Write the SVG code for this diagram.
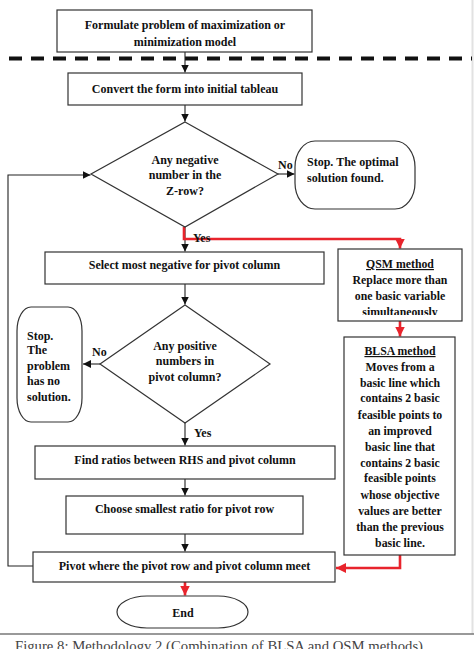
<svg xmlns="http://www.w3.org/2000/svg" width="474" height="649" viewBox="0 0 474 649">
<style>
.box{fill:#fff;stroke:#333;stroke-width:1.2}
.t{font-family:"Liberation Serif","Times New Roman",serif;font-size:12px;font-weight:bold;fill:#111;text-anchor:middle}
.tl{font-family:"Liberation Serif","Times New Roman",serif;font-size:12px;font-weight:bold;fill:#111}
.r{font-family:"Liberation Serif","Times New Roman",serif;font-size:11.8px;font-weight:bold;fill:#111;text-anchor:middle}
.bl{fill:none;stroke:#222;stroke-width:1.1}
.rd{fill:none;stroke:#e8242c;stroke-width:2.6}
</style>
<defs>
<marker id="ab" markerUnits="userSpaceOnUse" markerWidth="10" markerHeight="10" refX="8" refY="4" orient="auto"><path d="M0,0 L8,4 L0,8 z" fill="#111"/></marker>
<marker id="ar" markerUnits="userSpaceOnUse" markerWidth="12" markerHeight="12" refX="10" refY="5" orient="auto"><path d="M0,0 L10,5 L0,10 z" fill="#e8242c"/></marker>
<clipPath id="qclip"><rect x="338" y="249" width="124" height="66"/></clipPath>
</defs>
<rect width="474" height="649" fill="#fff"/>
<line x1="472.5" y1="0" x2="472.5" y2="634" stroke="#e2e2e2" stroke-width="2"/>
<line x1="0" y1="634" x2="474" y2="634" stroke="#777" stroke-width="1.4"/>
<line x1="9" y1="58.5" x2="472" y2="58.5" stroke="#111" stroke-width="4" stroke-dasharray="13 9"/>

<g id="connectors">
<line class="bl" x1="185" y1="52" x2="185" y2="72.5" marker-end="url(#ab)"/>
<line class="bl" x1="185" y1="105" x2="185" y2="121.5" marker-end="url(#ab)"/>
<path class="bl" d="M33,566 H8 V175 H90.5" marker-end="url(#ab)"/>
<line class="bl" x1="278" y1="174" x2="294.5" y2="174" marker-end="url(#ab)"/>
<line class="bl" x1="185" y1="227" x2="185" y2="251.5" marker-end="url(#ab)"/>
<path class="rd" d="M184,227 V239 H400 V248.5" marker-end="url(#ar)"/>
<line class="bl" x1="185" y1="284" x2="185" y2="304.5" marker-end="url(#ab)"/>
<line class="bl" x1="100" y1="364" x2="83" y2="364" marker-end="url(#ab)"/>
<line class="bl" x1="185" y1="423" x2="185" y2="445.5" marker-end="url(#ab)"/>
<line class="bl" x1="185" y1="479" x2="185" y2="495.5" marker-end="url(#ab)"/>
<line class="bl" x1="185" y1="534" x2="185" y2="551.5" marker-end="url(#ab)"/>
<line class="rd" x1="400" y1="321" x2="400" y2="336.5" marker-end="url(#ar)"/>
<path class="rd" d="M400,555 V568 H336" marker-end="url(#ar)"/>
<line class="rd" x1="185" y1="582" x2="185" y2="595.5" marker-end="url(#ar)"/>
<text class="tl" x="193" y="242">Yes</text>
<text class="tl" x="194" y="437">Yes</text>
<text class="tl" x="278" y="169">No</text>
<text class="tl" x="92" y="356">No</text>
</g>

<g id="n-formulate">
<rect class="box" x="57" y="10" width="255" height="42"/>
<text class="t" x="185" y="29">Formulate problem of maximization or</text>
<text class="t" x="185" y="46">minimization model</text>
</g>
<g id="n-convert">
<rect class="box" x="68" y="73" width="234" height="32"/>
<text class="t" x="185" y="93">Convert the form into initial tableau</text>
</g>
<g id="n-neg">
<polygon class="box" points="185,122 278,174 185,227 91,174"/>
<text class="t" x="185" y="164">Any negative</text>
<text class="t" x="185" y="179">number in the</text>
<text class="t" x="185" y="195">Z-row?</text>
</g>
<g id="n-stop1">
<rect class="box" x="295" y="141" width="120" height="68" rx="20" ry="26"/>
<text class="tl" x="307" y="166">Stop. The optimal</text>
<text class="tl" x="307" y="182">solution found.</text>
</g>
<g id="n-select">
<rect class="box" x="45" y="252" width="279" height="32"/>
<text class="t" x="184.5" y="269">Select most negative for pivot column</text>
</g>
<g id="n-qsm">
<rect class="box" x="338" y="249" width="124" height="72"/>
<g clip-path="url(#qclip)">
<text class="r" x="400" y="268" text-decoration="underline">QSM method</text>
<text class="r" x="400" y="284">Replace more than</text>
<text class="r" x="400" y="300">one basic variable</text>
<text class="r" x="400" y="315.5">simultaneously</text>
</g>
</g>
<g id="n-pos">
<polygon class="box" points="185,305 270,364 185,423 100,364"/>
<text class="t" x="185" y="350">Any positive</text>
<text class="t" x="185" y="365">numbers in</text>
<text class="t" x="185" y="381">pivot column?</text>
</g>
<g id="n-stop2">
<rect class="box" x="17" y="307" width="65" height="115" rx="14" ry="24"/>
<text class="tl" x="27" y="340">Stop.</text>
<text class="tl" x="27" y="354">The</text>
<text class="tl" x="27" y="370">problem</text>
<text class="tl" x="27" y="385">has no</text>
<text class="tl" x="27" y="401">solution.</text>
</g>
<g id="n-blsa">
<rect class="box" x="344" y="337" width="111" height="218"/>
<text class="r" x="400" y="355" text-decoration="underline">BLSA method</text>
<text class="r" x="400" y="371">Moves from a</text>
<text class="r" x="400" y="387">basic line which</text>
<text class="r" x="400" y="402">contains 2 basic</text>
<text class="r" x="400" y="419">feasible points to</text>
<text class="r" x="400" y="435">an improved</text>
<text class="r" x="400" y="451">basic line that</text>
<text class="r" x="400" y="467">contains 2 basic</text>
<text class="r" x="400" y="482">feasible points</text>
<text class="r" x="400" y="499">whose objective</text>
<text class="r" x="400" y="515">values are better</text>
<text class="r" x="400" y="531">than the previous</text>
<text class="r" x="400" y="547">basic line.</text>
</g>
<g id="n-find">
<rect class="box" x="35" y="446" width="300" height="33"/>
<text class="t" x="185" y="464">Find ratios between RHS and pivot column</text>
</g>
<g id="n-choose">
<rect class="box" x="66" y="496" width="237" height="38"/>
<text class="t" x="184.5" y="513">Choose smallest ratio for pivot row</text>
</g>
<g id="n-pivot">
<rect class="box" x="33" y="552" width="302" height="30"/>
<text class="t" x="184.5" y="570">Pivot where the pivot row and pivot column meet</text>
</g>
<g id="n-end">
<rect class="box" x="117" y="596" width="131" height="32" rx="30" ry="16"/>
<text class="t" x="183" y="617">End</text>
</g>
<text x="15" y="651" font-family="'Liberation Serif','Times New Roman',serif" font-size="15" fill="#444" textLength="408" lengthAdjust="spacingAndGlyphs">Figure 8: Methodology 2 (Combination of BLSA and QSM methods)</text>
</svg>
